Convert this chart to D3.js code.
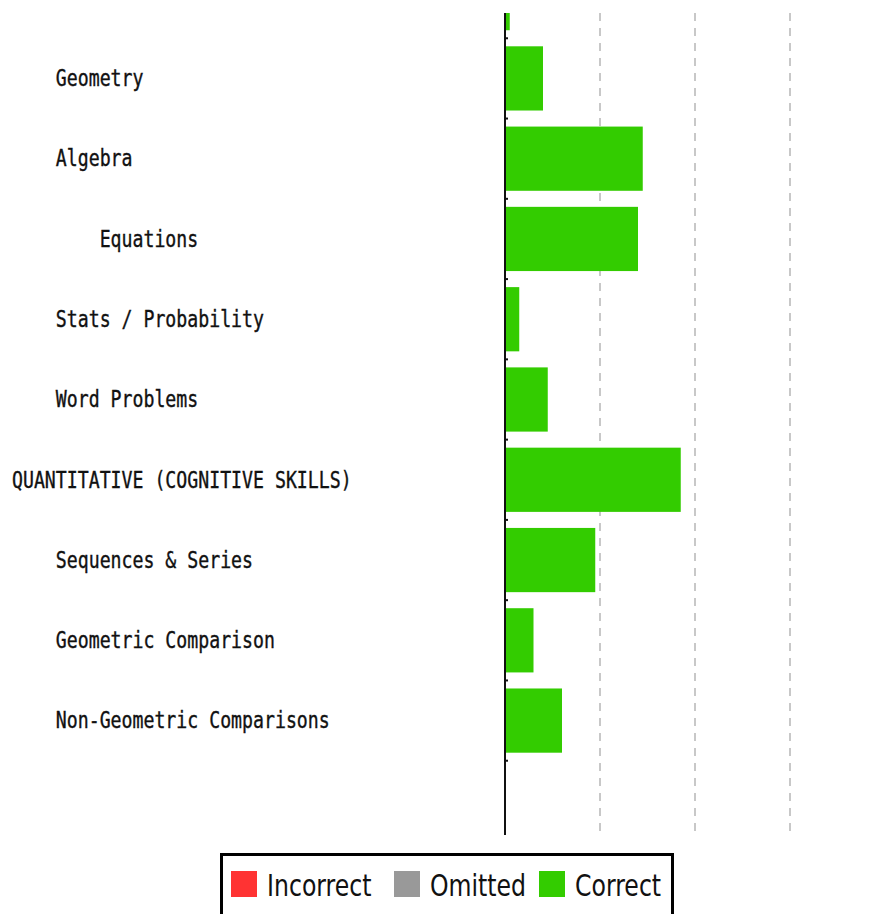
<!DOCTYPE html>
<html>
<head>
<meta charset="utf-8">
<script src="https://cdn.jsdelivr.net/npm/d3@7"></script>
<style>
  body { margin: 0; background: #fff; }
  svg { display: block; }
  .lbl { font-family: "DejaVu Sans Mono", monospace; font-size: 18.2px; fill: #111; white-space: pre; stroke: #111; stroke-width: 0.3px; }
  .leg { font-family: "DejaVu Sans", sans-serif; font-size: 23.6px; fill: #111; }
</style>
</head>
<body>
<svg class="chart"></svg>
<script>
// rows of the chart, top one is scrolled off, bottom one is empty
var labels = ['', '    Geometry', '    Algebra', '        Equations', '    Stats / Probability',
  '    Word Problems', 'QUANTITATIVE (COGNITIVE SKILLS)', '    Sequences & Series',
  '    Geometric Comparison', '    Non-Geometric Comparisons', ''];
var correct = [1, 8, 29, 28, 3, 9, 37, 19, 6, 12, 0];
var gridTicks = [20, 40, 60];
var legendNames = ['Incorrect', 'Omitted', 'Correct'];
var legendColors = ['#ff3333', '#999999', '#33cc00'];

const W = 871, H = 914;
const svg = d3.select('svg.chart').attr('width', W).attr('height', H);

const x = d3.scaleLinear().domain([0, 80]).range([505, 885]);
const y = d3.scaleBand().domain(d3.range(labels.length))
  .range([-42, 841]).paddingInner(0.2).paddingOuter(0.1);

svg.append('defs').append('clipPath').attr('id', 'plotclip')
  .append('rect').attr('x', 0).attr('y', 13).attr('width', W).attr('height', 822);

let g = svg.append('g').attr('clip-path', 'url(#plotclip)');

// dashed grid
g.selectAll('line.grid')
  .data(gridTicks)
  .enter()
  .append('line')
  .attr('class', 'grid')
  .attr('x1', d => x(d)).attr('x2', d => x(d))
  .attr('y1', 13).attr('y2', 831)
  .attr('stroke', '#c8c8c8')
  .attr('stroke-width', 2)
  .attr('stroke-dasharray', '8,7');

// bars
g.selectAll('rect.bar')
  .data(correct)
  .enter()
  .append('rect')
  .attr('class', 'bar')
  .attr('x', x(0))
  .attr('y', (d, i) => y(i))
  .attr('width', d => x(d) - x(0))
  .attr('height', y.bandwidth())
  .attr('fill', '#33cc00');

// row labels
g.selectAll('text.lbl')
  .data(labels)
  .enter()
  .append('text')
  .attr('class', 'lbl')
  .attr('xml:space', 'preserve')
  .attr('transform', (d, i) => 'translate(12,' + (y(i) + y.bandwidth() / 2) + ') scale(1,1.22)')
  .attr('dy', '0.35em')
  .text(d => d);

// axis line with ticks at row boundaries
g.append('line')
  .attr('x1', x(0)).attr('x2', x(0))
  .attr('y1', 13).attr('y2', 835)
  .attr('stroke', '#111')
  .attr('stroke-width', 2);

var bounds = d3.range(labels.length).map(i => y(i) - y.step() * y.paddingInner() / 2);
g.selectAll('line.tick')
  .data(bounds)
  .enter()
  .append('line')
  .attr('class', 'tick')
  .attr('x1', x(0)).attr('x2', x(0) + 3)
  .attr('y1', d => d).attr('y2', d => d)
  .attr('stroke', '#111')
  .attr('stroke-width', 2);

// legend
let leg = svg.append('g');
leg.append('rect')
  .attr('x', 221.5).attr('y', 854.5)
  .attr('width', 451).attr('height', 80)
  .attr('fill', '#fff')
  .attr('stroke', '#000')
  .attr('stroke-width', 3);

var legX = [231, 394, 539];
legendNames.forEach(function(name, i) {
  leg.append('rect')
    .attr('x', legX[i]).attr('y', 871)
    .attr('width', 26).attr('height', 26)
    .attr('fill', legendColors[i]);
  leg.append('text')
    .attr('class', 'leg')
    .attr('transform', 'translate(' + (legX[i] + 36) + ',885) scale(1,1.3)')
    .attr('dy', '0.35em')
    .text(name);
});
</script>
</body>
</html>
